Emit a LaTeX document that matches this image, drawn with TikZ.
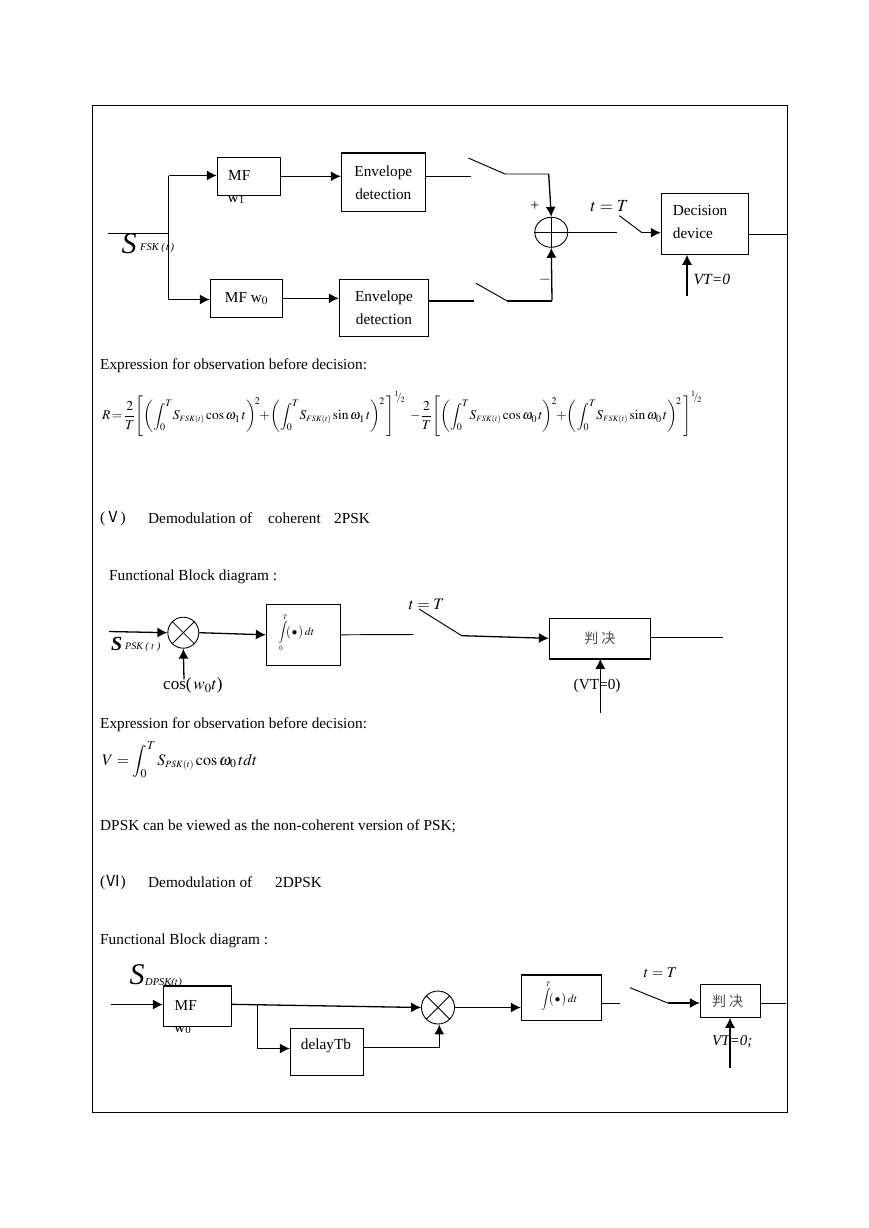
\documentclass[tikz,border=0pt]{standalone}
\usepackage{amsmath}
\usepackage{mathptmx}
\usepackage{fontspec}
\setmainfont{Liberation Serif}
\newfontfamily\cjk{Noto Sans CJK SC}
\usetikzlibrary{arrows.meta,shapes,calc}
\tikzstyle{block}=[draw,fill=white,line width=.9pt,inner sep=0pt,font=\fontsize{15.3}{23}\selectfont]
\tikzstyle{mixer}=[draw,fill=white,circle,line width=.9pt,inner sep=0pt,minimum size=31pt]
\tikzstyle{adder}=[draw,fill=white,ellipse,line width=.9pt,inner sep=0pt,minimum width=33pt,minimum height=30pt]
\tikzstyle{txt}=[anchor=west,inner sep=0pt,font=\fontsize{15.3}{17}\selectfont]
\tikzstyle{sig}=[line width=.95pt]
\tikzstyle{flow}=[line width=1.3pt,-{Latex[length=10pt,width=10pt]}]
\tikzstyle{heavy}=[line width=1.8pt]
\newcommand{\junk}{\fontsize{14}{16}\selectfont\cjk\color{black!70}判\hspace{3pt}决}
\newcommand{\ovint}[1]{$\displaystyle\int\limits_{\scriptscriptstyle #1}^{\scriptscriptstyle T}\!\!\bigl(\,\bullet\,\bigr)\,dt$}
\newcommand{\halfexp}{{}^{1}\!\!/\!{}_{2}}
\newcommand{\sfskt}{S_{\scriptscriptstyle FSK(t)}}
\begin{document}
\begin{tikzpicture}[x=1pt,y=-1pt]
	\useasboundingbox (0,0) rectangle (869,1228);
	\draw[line width=1pt] (92.5,105.5) rectangle (787.5,1112.5);

	% FSK receiver
	\node[inner sep=0pt,font=\fontsize{15.3}{17}\selectfont] (wone) at (236,199) {w\raisebox{-1pt}{\fontsize{11}{11}\selectfont 1}};
	\node[block,minimum width=63pt,minimum height=38pt] (mfone) at (248.8,176.3) {};
	\node[txt] (mfonetxt) at (228,175.5) {MF};
	\node[block,minimum width=84pt,minimum height=57.6pt,align=center] (envone) at (383.3,182.5) {Envelope\\detection};
	\draw[heavy] (envone.north west) -- (envone.north east);
	\node[block,minimum width=72.4pt,minimum height=38pt] (mfzero) at (246.5,298.3) {MF w$_{0}$};
	\node[block,minimum width=89.4pt,minimum height=56.6pt,align=center] (envzero) at (384,308) {Envelope\\detection};
	\node[adder] (sum) at (551.3,232.3) {};
	\draw[line width=.8pt] (sum.west) -- (sum.east);
	\draw[line width=.8pt] (sum.north) -- (sum.south);
	\node[block,minimum width=87pt,minimum height=61pt] (decide) at (704.8,223.8) {};
	\node[txt,align=left,font=\fontsize{15.3}{23}\selectfont] (decidetxt) at (672.7,222.5) {Decision\\device};
	\node[inner sep=0pt,font=\fontsize{30}{30}\selectfont\itshape] (sfsk) at (129,244) {S};
	\node[txt,font=\fontsize{10.5}{10}\selectfont\itshape] (sfsksub) at (140,248) {FSK ($\,t\,$)};
	\node[txt] (plus) at (530.5,206) {+};
	\node[txt] (minus) at (539,280) {$-$};
	\node[inner sep=0pt,font=\fontsize{17}{17}\selectfont] (tone) at (609.5,206) {$t=T$};
	\node[txt,font=\fontsize{15.5}{17}\selectfont\itshape] (vtone) at (693.5,279) {VT=0};
	\coordinate (infsk) at (108,233.5);
	\coordinate (split) at (168.5,233.5);
	\coordinate (splitup) at (168.5,175.5);
	\coordinate (splitdn) at (168.5,299.5);
	\coordinate (swaout) at (471,176.5);
	\coordinate (swatop) at (468.3,158);
	\coordinate (swaend) at (505,174);
	\coordinate (swacor) at (548.7,174);
	\coordinate (swbout) at (474,300.7);
	\coordinate (swbtop) at (476,283.3);
	\coordinate (swbend) at (506.7,300.7);
	\coordinate (swbcor) at (552,300.7);
	\coordinate (sumout) at (616.7,231.5);
	\coordinate (swctop) at (619.3,215.7);
	\coordinate (swcend) at (642,232.7);
	\coordinate (decout) at (786.7,234.5);
	\coordinate (vtfoot) at (687,295.7);
	\draw[sig] (infsk) -- (split);
	\draw[sig] (splitup) -- (splitdn);
	\draw[flow] (splitup) -- (splitup -| mfone.west);
	\draw[flow] (splitdn) -- (splitdn -| mfzero.west);
	\draw[flow] (mfone.east) -- (mfone.east -| envone.west);
	\draw[flow] (mfzero.east) -- (mfzero.east -| envzero.west);
	\draw[sig] (swaout -| envone.east) -- (swaout);
	\draw[heavy] (swbout -| envzero.east) -- (swbout);
	\draw[sig] (swatop) -- (swaend) -- (swacor);
	\draw[sig] (swbtop) -- (swbend);
	\draw[heavy] (swbend) -- (swbcor);
	\draw[flow] (swacor) -- (sum.north);
	\draw[flow] (swbcor) -- (sum.south);
	\draw[sig] (sum.east) -- (sum.east -| sumout);
	\draw[sig] (swctop) -- (swcend);
	\draw[flow] (swcend) -- (swcend -| decide.west);
	\draw[sig] (decout -| decide.east) -- (decout);
	\draw[flow] (vtfoot) -- (vtfoot |- decide.south);

	% FSK observation
	\node[txt] (exprone) at (100,365.5) {Expression for observation before decision:};
	\node[txt,font=\fontsize{13.5}{16}\selectfont] (rform) at (102,414) {$\displaystyle R\!=\!\frac{2}{T}\!\left[\left(\int_{0}^{T}\! \sfskt\cos\omega_{1}\,t\right)^{\!2}\!\!+\!\left(\int_{0}^{T}\! \sfskt\sin\omega_{1}\,t\right)^{\!2}\,\right]^{\halfexp}$};
	\node[txt,font=\fontsize{13.5}{16}\selectfont] (rformb) at (410,414) {$\displaystyle -\frac{2}{T}\!\left[\left(\int_{0}^{T}\! \sfskt\cos\omega_{0}\,t\right)^{\!2}\!\!+\!\left(\int_{0}^{T}\! \sfskt\sin\omega_{0}\,t\right)^{\!2}\,\right]^{\halfexp}$};

	% coherent 2PSK
	\node[txt] (headfive) at (100,518.5) {({\cjk Ⅴ})};
	\node[txt] (headfivea) at (148,518.5) {Demodulation of};
	\node[txt] (headfiveb) at (268,518.5) {coherent};
	\node[txt] (headfivec) at (334,518.5) {2PSK};
	\node[txt] (fbdone) at (109,576.5) {Functional Block diagram :};
	\node[mixer] (mixone) at (183.3,632.7) {};
	\draw[line width=.8pt] (mixone.north west) -- (mixone.south east);
	\draw[line width=.8pt] (mixone.north east) -- (mixone.south west);
	\node[block,minimum width=74.4pt,minimum height=61pt] (intone) at (303.5,634.8) {};
	\node[txt,font=\fontsize{11}{11}\selectfont] (intonetxt) at (278,633) {\ovint{0}};
	\node[block,minimum width=101pt,minimum height=40pt] (decone) at (599.8,638.3) {\junk};
	\draw[heavy] (decone.south west) -- (decone.south east);
	\node[txt,font=\fontsize{20}{20}\selectfont\itshape\bfseries] (spsk) at (111,644) {S};
	\node[txt,font=\fontsize{10}{10}\selectfont\itshape] (spsksub) at (125,647) {PSK ( $t$ )};
	\node[txt,font=\fontsize{17}{17}\selectfont] (cosone) at (163,685.5) {cos($\,w_{0}t$)};
	\node[inner sep=0pt,font=\fontsize{16}{16}\selectfont] (ttwo) at (426.5,604) {$t=T$};
	\node[txt] (vttwo) at (573.5,686) {(VT=0)};
	\coordinate (inpsk) at (109,631.5);
	\coordinate (outone) at (413.3,634.5);
	\coordinate (swdtop) at (419,609);
	\coordinate (swdend) at (461.7,635.7);
	\coordinate (outtwo) at (723.3,637.5);
	\coordinate (costip) at (184,679.3);
	\coordinate (vtfoota) at (600.3,712.7);
	\draw[flow] (inpsk) -- (mixone.west);
	\draw[flow] (mixone.east) -- (intone.west);
	\draw[sig] (intone.east) -- (outone);
	\draw[sig] (swdtop) -- (swdend);
	\draw[flow] (swdend) -- (decone.west);
	\draw[sig] (outtwo -| decone.east) -- (outtwo);
	\draw[flow] (costip) -- (mixone.south);
	\draw[flow] (vtfoota) -- (vtfoota |- decone.south);
	\node[txt] (exprtwo) at (100,724.5) {Expression for observation before decision:};
	\node[txt,font=\fontsize{16}{18}\selectfont] (vform) at (102,760) {$\displaystyle V=\int_{0}^{T} S_{\scriptscriptstyle PSK(t)}\cos\omega_{0}\,tdt$};
	\node[txt] (dpsk) at (100,826.5) {DPSK can be viewed as the non-coherent version of PSK;};

	% 2DPSK
	\node[txt] (headsix) at (100,882.5) {({\cjk Ⅵ})};
	\node[txt] (headsixa) at (148,882.5) {Demodulation of};
	\node[txt] (headsixb) at (275,882.5) {2DPSK};
	\node[txt] (fbdtwo) at (100,940.5) {Functional Block diagram :};
	\node[inner sep=0pt,font=\fontsize{30}{30}\selectfont\itshape] (sdpsk) at (137,975) {S};
	\node[txt,font=\fontsize{10.5}{10}\selectfont\itshape] (sdpsksub) at (145,982.5) {DPSK($t$)};
	\node[inner sep=0pt,font=\fontsize{15.3}{17}\selectfont] (wzero) at (182.5,1030) {w\raisebox{-1pt}{\fontsize{11}{11}\selectfont 0}};
	\node[block,minimum width=68pt,minimum height=39.6pt] (mfthree) at (197.3,1006.5) {};
	\draw[heavy] (mfthree.north west) -- (mfthree.north east);
	\node[txt] (mfthreetxt) at (174.5,1005) {MF};
	\node[block,minimum width=73pt,minimum height=46.7pt] (delay) at (326.8,1051.7) {};
	\node[inner sep=0pt,font=\fontsize{15.3}{17}\selectfont] (delaytxt) at (326,1046) {delayTb};
	\node[mixer,minimum size=33pt] (mixtwo) at (438,1007.5) {};
	\draw[line width=.8pt] (mixtwo.north west) -- (mixtwo.south east);
	\draw[line width=.8pt] (mixtwo.north east) -- (mixtwo.south west);
	\node[block,minimum width=80.4pt,minimum height=44.6pt] (inttwo) at (561.5,998) {};
	\draw[heavy] (inttwo.north west) -- (inttwo.north east);
	\node[txt,font=\fontsize{11}{11}\selectfont] (inttwotxt) at (541,1000) {\ovint{}};
	\node[block,minimum width=60.4pt,minimum height=33pt] (dectwo) at (730.5,1000.8) {\junk\hspace*{6pt}};
	\node[inner sep=0pt,font=\fontsize{15}{15}\selectfont] (tthree) at (660.5,972.7) {$t=T$};
	\node[txt,font=\fontsize{15}{15}\selectfont\itshape] (vtthree) at (712,1041.7) {VT=0;};
	\coordinate (indpsk) at (111,1004.5);
	\coordinate (mfout) at (231.3,1004.3);
	\coordinate (branch) at (257.5,1005);
	\coordinate (branchdn) at (257.5,1048.5);
	\coordinate (delout) at (439.3,1047.5);
	\coordinate (outthree) at (620,1003.5);
	\coordinate (swetop) at (630,987.7);
	\coordinate (sweend) at (667.7,1003);
	\coordinate (outfour) at (786,1003.5);
	\coordinate (vtfootb) at (730,1067.7);
	\draw[flow] (indpsk) -- (indpsk -| mfthree.west);
	\draw[flow] (mfout) -- (mixtwo.west);
	\draw[sig] (branch) -- (branchdn);
	\draw[flow] (branchdn) -- (branchdn -| delay.west);
	\draw[sig] (delay.east |- delout) -- (delout);
	\draw[flow] (delout) -- (delout |- mixtwo.south);
	\draw[flow] (mixtwo.east) -- (mixtwo.east -| inttwo.west);
	\draw[sig] (outthree -| inttwo.east) -- (outthree);
	\draw[sig] (swetop) -- (sweend);
	\draw[flow] (sweend) -- (sweend -| dectwo.west);
	\draw[sig] (outfour -| dectwo.east) -- (outfour);
	\draw[flow] (vtfootb) -- (vtfootb |- dectwo.south);
\end{tikzpicture}
\end{document}
